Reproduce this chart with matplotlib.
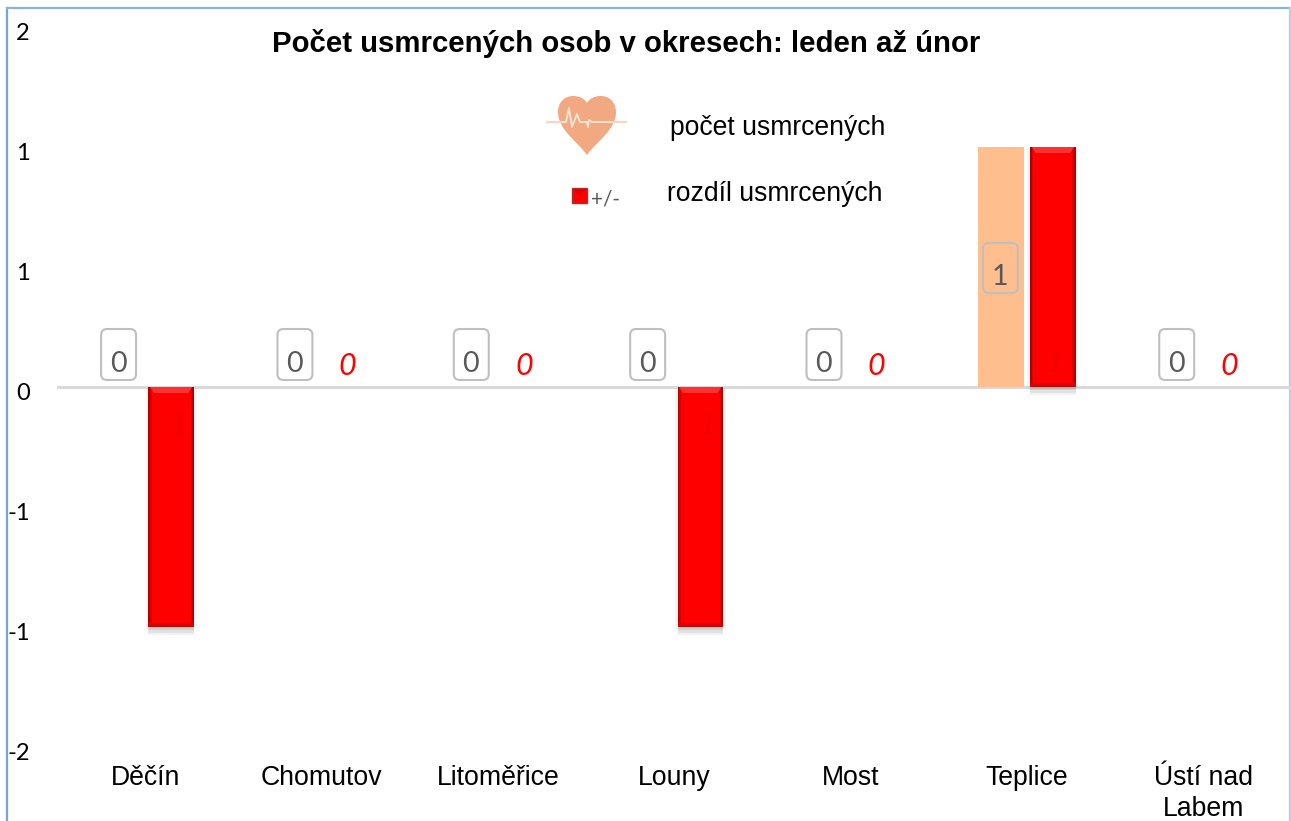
import matplotlib
matplotlib.use("Agg")
import matplotlib.pyplot as plt
import numpy as np
from matplotlib.patches import FancyBboxPatch, Rectangle, PathPatch, Polygon
from matplotlib.path import Path
from matplotlib import patheffects as pe
from matplotlib.transforms import ScaledTranslation

categories = ["Děčín", "Chomutov", "Litoměřice", "Louny", "Most", "Teplice", "Ústí nad\nLabem"]
usmrcenych = [0, 0, 0, 0, 0, 1, 0]
rozdil = [-1, 0, 0, -1, 0, 1, 0]
y_ticks = [-1.5, -1.0, -0.5, 0, 0.5, 1.0, 1.5]
y_tick_labels = ["-2", "-1", "-1", "0", "1", "1", "2"]
title = "Počet usmrcených osob v okresech: leden až únor"
legend_count = "počet usmrcených"
legend_diff = "rozdíl usmrcených"

W, H = 1291, 821
ARIAL = "Liberation Sans"
CAL = ["Lato", "DejaVu Sans"]
PEACH = "#FFBE8E"

fig = plt.figure(figsize=(W / 100, H / 100), dpi=100, facecolor="white")
L, R, T, B = 57, 1291.5, 27, 747
ax = fig.add_axes([L / W, 1 - B / H, (R - L) / W, (B - T) / H])
ax.set_xlim(-0.5, 6.5)
ax.set_ylim(-1.5, 1.5)
ax.patch.set_alpha(0)
for s in ax.spines.values():
    s.set_visible(False)
x = np.arange(len(categories))
bw = 0.257
off_a, off_b = -0.148, 0.147

ax.set_yticks(y_ticks, y_tick_labels, fontsize=17, family=CAL, color="black")
ax.tick_params(axis="y", length=0, pad=19.5)
for lab in ax.get_yticklabels():
    lab.set_transform(lab.get_transform() + ScaledTranslation(0, -5 / 100, fig.dpi_scale_trans))
ax.set_xticks(x, [""] * len(x))
ax.tick_params(axis="x", length=0)

ax.bar(x + off_a, usmrcenych, bw, color=PEACH, zorder=2)
ax.axhline(0, color="#D9D9D9", lw=2.2, zorder=1)
soft = [pe.SimplePatchShadow(offset=o, shadow_rgbFace="#808080", alpha=a)
        for o, a in [((0, -6), 0.10), ((0, -4), 0.14), ((0, -2), 0.18), ((-2, -1), 0.08), ((2, -1), 0.08)]]
red = ax.bar(x + off_b, rozdil, bw, color="#FF0000", zorder=3, path_effects=soft + [pe.Normal()])

# bevel of the red bars, derived from each bar's own geometry
dx = 0.009
px = 1 / 240
for b in red:
    if b.get_height() == 0:
        continue
    x0, w = b.get_x(), b.get_width()
    y0, h = b.get_y(), b.get_height()
    lo, hi = min(y0, y0 + h), max(y0, y0 + h)
    for i, c in enumerate(["#B00000", "#DC0000"]):
        ax.add_patch(Rectangle((x0 + i * dx, lo), dx, hi - lo, color=c, lw=0, zorder=4))
        ax.add_patch(Rectangle((x0 + w - (i + 1) * dx, lo), dx, hi - lo, color=c, lw=0, zorder=4))
    ax.add_patch(Rectangle((x0, lo), w, 2 * px, color="#B01010", lw=0, zorder=4))
    ax.add_patch(Rectangle((x0, lo + 2 * px), w, 2 * px, color="#E00000", lw=0, zorder=4))
    ax.add_patch(Polygon([(x0 + dx, hi), (x0 + w - dx, hi), (x0 + w - 0.03, hi - 6 * px), (x0 + 0.03, hi - 6 * px)],
                         closed=True, color="#FF3030", lw=0, zorder=4))

# data labels of the count series
for xi, v in zip(x, usmrcenych):
    ax.annotate(f"{v}", (xi + off_a, v / 2 if v else 0), xytext=(-1, -10 if v else 23), textcoords="offset pixels",
                ha="center", va="center", fontsize=20.5, color="#595959", family=CAL, zorder=6)

# data labels of the difference series
for xi, v in zip(x, rozdil):
    cx = xi + off_b + 0.012
    if v == 0:
        ax.annotate("0", (cx, 0), xytext=(-2, 21), textcoords="offset pixels", ha="center", va="center",
                    fontsize=22, style="italic", color="#FF0000", family=CAL, zorder=6)
    else:
        ax.annotate(f"{v}", (cx, 0), xytext=(0, 24 if v > 0 else -38), textcoords="offset pixels", ha="center",
                    va="center", fontsize=22, style="italic", color="#F20000", family=CAL, zorder=6)

# frame behind the chart, in pixel coordinates
ov = fig.add_axes([0, 0, 1, 1], zorder=-1)
ov.set_xlim(0, W)
ov.set_ylim(H, 0)
ov.axis("off")
ov.plot([6.5, 6.5], [821, 8], color="#6FA8E0", lw=1.6)
ov.plot([6.5, 1290], [8, 8], color="#86B4DC", lw=1.6)
ov.plot([1290, 1290], [8, 821], color="#B5D0E8", lw=1.6)

# label boxes, icon and texts above the chart, in pixel coordinates
ov2 = fig.add_axes([0, 0, 1, 1], zorder=5)
ov2.set_xlim(0, W)
ov2.set_ylim(H, 0)
ov2.axis("off")
ov2.patch.set_alpha(0)

for xi, v in zip(x, usmrcenych):
    cx = L + (xi + off_a + 0.5) * (R - L) / 7 - 0.5
    top, bot = (243, 293) if v else (329, 380)
    hw = 17.5
    ov2.add_patch(FancyBboxPatch((cx - hw + 4, top + 4), 2 * hw - 8, bot - top - 8,
                                 boxstyle="round,pad=4,rounding_size=6", fc="none", ec="#BFBFBF", lw=1.5))

hx, hy = 587, 96
heart = Path(
    [(0, 59), (-9, 46), (-29, 34), (-29, 16), (-29, 5), (-21, 0), (-14, 0), (-7, 0), (-2, 3), (0, 7),
     (2, 3), (7, 0), (14, 0), (21, 0), (29, 5), (29, 16), (29, 34), (9, 46), (0, 59)],
    [Path.MOVETO] + [Path.CURVE4] * 18)
heart = Path(heart.vertices + [hx, hy], heart.codes)
ov2.add_patch(PathPatch(heart, fc="#F2A981", ec="none"))
ov2.plot([547, 563], [122, 122], color="#F9D6BF", lw=1.6)
ov2.plot([610, 626], [122, 122], color="#F9D6BF", lw=1.6)
ov2.plot([563, 566, 569, 572, 577, 580, 587, 588, 589, 592, 610],
         [122, 122, 108, 127, 114, 122, 122, 127, 120, 122, 122], color="#FCE6D8", lw=1.3)
ov2.add_patch(Rectangle((572, 188), 15, 15, fc="#FF0000", ec="#B03030", lw=1))
ov2.add_patch(Polygon([(573, 189), (586, 189), (579.5, 195)], closed=True, fc="#E00000", ec="none"))
ov2.text(606, 200, "+/-", ha="center", va="center", fontsize=15, color="#595959", family=CAL)

ov2.text(626, 44, title, ha="center", va="center", fontsize=21.2, fontweight="bold", family=ARIAL, color="black")
ov2.text(778, 128, legend_count, ha="center", va="center", fontsize=19.1, family=ARIAL, color="black")
ov2.text(774.5, 194, legend_diff, ha="center", va="center", fontsize=19.1, family=ARIAL, color="black")

for xi, name in zip(x, categories):
    cx = L + (xi + 0.5) * (R - L) / 7
    ov2.text(cx, 765, name, ha="center", va="top", fontsize=19.2, family=ARIAL, color="black", linespacing=1.27)

fig.savefig("out.png", dpi=100)
